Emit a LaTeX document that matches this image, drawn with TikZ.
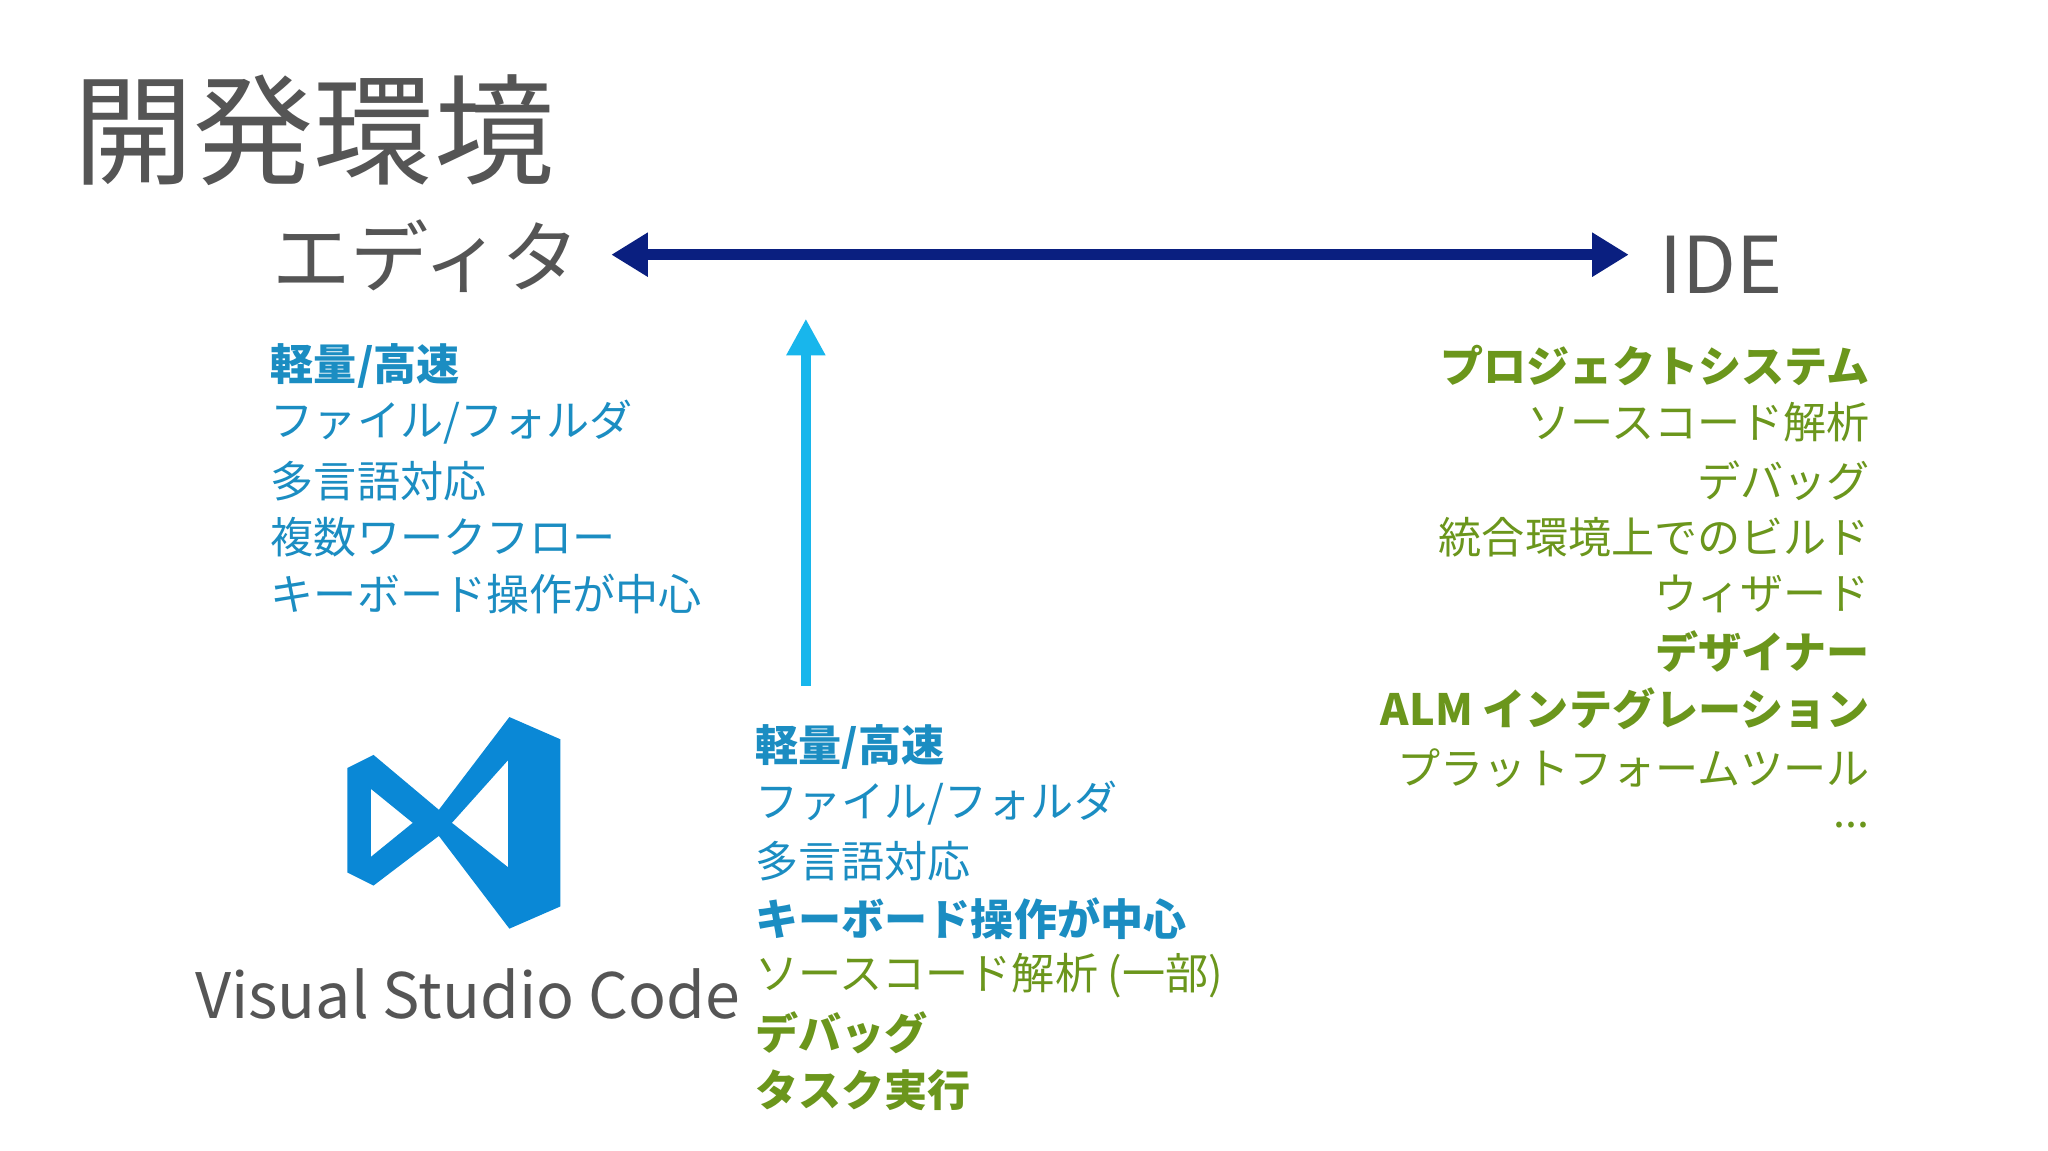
\documentclass[tikz,border=0pt]{standalone}
\usepackage{fontspec}
\setmainfont{Noto Sans CJK JP}
\usetikzlibrary{arrows.meta}
\definecolor{ttl}{HTML}{555555}
\definecolor{bl}{HTML}{1B8DC2}
\definecolor{gr}{HTML}{6B961C}
\definecolor{dk}{HTML}{0A1F80}
\definecolor{lt}{HTML}{18B6EC}
\definecolor{logo}{HTML}{0A88D6}
\tikzset{
 it/.style={inner sep=0pt,font=\fontsize{16.5pt}{18pt}\selectfont},
 bi/.style={it,font=\fontsize{16.5pt}{18pt}\selectfont\bfseries},
}
\begin{document}
\begin{tikzpicture}[x=0.5pt,y=-0.5pt]
\useasboundingbox[fill=white] (0,0) rectangle (1568,881);
\node[anchor=west,inner sep=0pt,text=ttl,font=\fontsize{46pt}{50pt}\selectfont] (title) at (56,100) {開発環境};
\node[anchor=west,inner sep=0pt,text=ttl,font=\fontsize{30pt}{34pt}\selectfont] (ed) at (208,196) {エディタ};
\node[anchor=west,inner sep=0pt,text=ttl,font=\fontsize{30pt}{34pt}\selectfont] (ide) at (1270,203) {IDE};
\coordinate (a1) at (468,195); \coordinate (a2) at (1247,195);
\draw[dk,line width=4pt,{Triangle[length=14pt,width=16pt]}-{Triangle[length=14pt,width=16pt]}] (a1) -- (a2);
\coordinate (b1) at (617,525); \coordinate (b2) at (617,244);
\draw[lt,line width=4pt,-{Triangle[length=14pt,width=14pt]}] (b1) -- (b2);
% left list
\begin{scope}[every node/.append style={anchor=west,text=bl}]
\node[bi] (l1) at (207,280) {軽量/高速};
\node[it] (l2) at (207,323) {ファイル/フォルダ};
\node[it] (l3) at (207,368) {多言語対応};
\node[it] (l4) at (207,411) {複数ワークフロー};
\node[it] (l5) at (207,455) {キーボード操作が中心};
\node[bi] (m1) at (578,572) {軽量/高速};
\node[it] (m2) at (578,615) {ファイル/フォルダ};
\node[it] (m3) at (578,659) {多言語対応};
\node[bi] (m4) at (578,703) {キーボード操作が中心};
\end{scope}
\begin{scope}[every node/.append style={anchor=west,text=gr}]
\node[it] (m5) at (578,747) {ソースコード解析 (一部)};
\node[bi] (m6) at (578,791) {デバッグ};
\node[bi] (m7) at (578,835) {タスク実行};
\end{scope}
\begin{scope}[every node/.append style={anchor=east,text=gr}]
\node[bi] (r1) at (1432,280) {プロジェクトシステム};
\node[it] (r2) at (1432,323) {ソースコード解析};
\node[it] (r3) at (1432,368) {デバッグ};
\node[it] (r4) at (1432,411) {統合環境上でのビルド};
\node[it] (r5) at (1432,455) {ウィザード};
\node[bi] (r6) at (1432,499) {デザイナー};
\node[bi] (r7) at (1432,543) {ALM インテグレーション};
\node[it] (r8) at (1432,588) {プラットフォームツール};
\node[it] (r9) at (1432,632) {...};
\end{scope}
% logo
\fill[logo,even odd rule] (266,588)--(286,578)--(336,620)--(390,549)--(429,566)--(429,694)--(390,711)--(336,640)--(286,678)--(266,668)--cycle
 (389,582)--(346,630)--(389,664)--cycle
 (284,604)--(284,656)--(316,630)--cycle;
\node[inner sep=0pt,text=ttl,font=\fontsize{24pt}{28pt}\selectfont] (vsc) at (358,761) {Visual Studio Code};
\end{tikzpicture}
\end{document}
